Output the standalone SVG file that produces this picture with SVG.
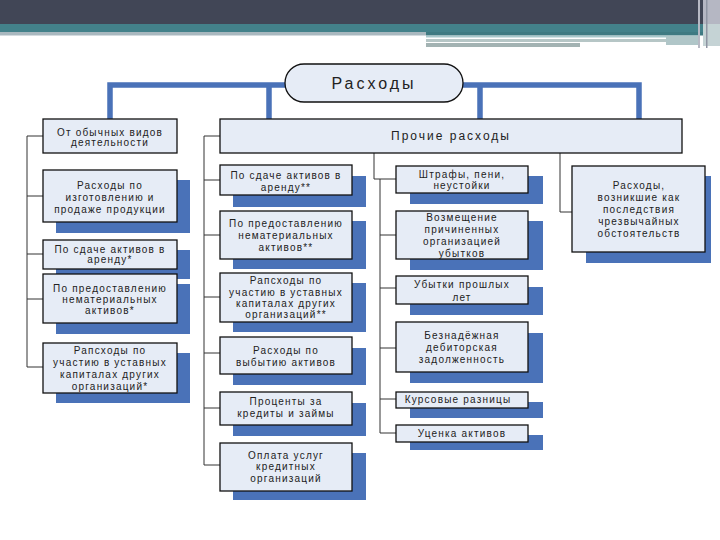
<svg xmlns="http://www.w3.org/2000/svg" width="720" height="540" viewBox="0 0 720 540">
<style>
.box{fill:#e6ecf6;stroke:#111;stroke-width:1.3}
.sh{fill:#4a72b8}
.t{font-family:"Liberation Sans",Arial,sans-serif;font-size:10px;letter-spacing:1.2px;fill:#222;text-anchor:middle}
.thin{fill:none;stroke:#333;stroke-width:1}
.thick{fill:none;stroke:#4a72b8;stroke-width:5.5;stroke-linecap:round;stroke-linejoin:miter}
</style>
<rect width="720" height="540" fill="#ffffff"/>
<!-- header -->
<g id="header">
<rect x="0" y="0" width="720" height="24" fill="#414656"/>
<rect x="0" y="24" width="720" height="9" fill="#43818a"/>
<rect x="0" y="32" width="426" height="3.5" fill="#a9b8bf"/>
<rect x="426" y="32" width="294" height="3.5" fill="#3f7a82"/>
<rect x="426" y="36" width="241" height="1.5" fill="#a8c8cc"/>
<rect x="426" y="39" width="241" height="3" fill="#b6c6c6"/>
<rect x="426" y="43" width="154" height="4" fill="#a3b3b3"/>
<rect x="666" y="36" width="34" height="9" fill="#b0c6c8"/>
<rect x="698" y="0" width="2" height="48" fill="#b7b9c4"/>
<rect x="703" y="0" width="17" height="24" fill="#b5b7c3"/>
<rect x="703" y="24" width="17" height="22" fill="#c5d3d5"/>
<rect x="706" y="0" width="1.5" height="48" fill="#8f95a3"/>
</g>
<!-- connectors -->
<g id="connectors">
<path class="thick" d="M110,119 V85 H286 M463,85 H639 V119 M269,85 V119 M480,85 V119"/>
<path class="thin" d="M43,136 H27 V367 H43 M27,196 H43 M27,254 H43 M27,299 H43"/>
<path class="thin" d="M220,136 H204 V465 H220 M204,180 H220 M204,235 H220 M204,297 H220 M204,353 H220 M204,408 H220"/>
<path class="thin" d="M374,153 V179 H396 M380,179 V433 H396 M380,235 H396 M380,288 H396 M380,348 H396 M380,399 H396"/>
<path class="thin" d="M560,153 V212 H572"/>
</g>
<!-- root -->
<g id="root">
<rect class="box" x="285" y="64" width="178" height="38" rx="19" ry="19"/>
<text x="374" y="89" font-family="'Liberation Sans',Arial,sans-serif" font-size="16" letter-spacing="3" fill="#222" text-anchor="middle">Расходы</text>
</g>
<g id="ordinary">
<rect class="box" x="43" y="119" width="134" height="34"/>
<text class="t" x="110" y="135.5">От обычных видов</text>
<text class="t" x="110" y="146">деятельности</text>
</g>
<g id="other">
<rect class="box" x="220" y="119" width="462" height="34"/>
<text x="451" y="140" font-family="'Liberation Sans',Arial,sans-serif" font-size="12" letter-spacing="2" fill="#222" text-anchor="middle">Прочие расходы</text>
</g>
<!-- left column -->
<g id="l1">
<rect class="sh" x="56" y="180" width="134" height="53"/>
<rect class="box" x="43" y="170" width="134" height="52"/>
<text class="t" x="110" y="188.5">Расходы по</text>
<text class="t" x="110" y="200.5">изготовлению и</text>
<text class="t" x="110" y="212.5">продаже продукции</text>
</g>
<g id="l2">
<rect class="sh" x="56" y="250" width="134" height="29"/>
<rect class="box" x="43" y="240" width="134" height="29"/>
<text class="t" x="110" y="252.5">По сдаче активов в</text>
<text class="t" x="110" y="262.5">аренду*</text>
</g>
<g id="l3">
<rect class="sh" x="56" y="284" width="134" height="50"/>
<rect class="box" x="43" y="274" width="134" height="49"/>
<text class="t" x="110" y="291.5">По предоставлению</text>
<text class="t" x="110" y="302.5">нематериальных</text>
<text class="t" x="110" y="313.5">активов*</text>
</g>
<g id="l4">
<rect class="sh" x="56" y="353" width="134" height="50"/>
<rect class="box" x="43" y="343" width="134" height="50"/>
<text class="t" x="110" y="353.5">Рапсходы по</text>
<text class="t" x="110" y="365.5">участию в уставных</text>
<text class="t" x="110" y="377.5">капиталах других</text>
<text class="t" x="110" y="389.5">организаций*</text>
</g>
<!-- middle column -->
<g id="m1">
<rect class="sh" x="233" y="176" width="133" height="31"/>
<rect class="box" x="220" y="165" width="132" height="30"/>
<text class="t" x="286" y="178.5">По сдаче активов в</text>
<text class="t" x="286" y="190.5">аренду**</text>
</g>
<g id="m2">
<rect class="sh" x="233" y="221" width="133" height="48"/>
<rect class="box" x="220" y="211" width="132" height="48"/>
<text class="t" x="286" y="226.5">По предоставлению</text>
<text class="t" x="286" y="238.5">нематериальных</text>
<text class="t" x="286" y="250.5">активов**</text>
</g>
<g id="m3">
<rect class="sh" x="233" y="283" width="133" height="49"/>
<rect class="box" x="220" y="273" width="132" height="49"/>
<text class="t" x="286" y="283.5">Рапсходы по</text>
<text class="t" x="286" y="295.5">участию в уставных</text>
<text class="t" x="286" y="306.5">капиталах других</text>
<text class="t" x="286" y="318">организаций**</text>
</g>
<g id="m4">
<rect class="sh" x="233" y="348" width="133" height="37"/>
<rect class="box" x="220" y="337" width="132" height="37"/>
<text class="t" x="286" y="353.5">Расходы по</text>
<text class="t" x="286" y="365.5">выбытию активов</text>
</g>
<g id="m5">
<rect class="sh" x="233" y="403" width="133" height="33"/>
<rect class="box" x="220" y="392" width="132" height="33"/>
<text class="t" x="286" y="404.5">Проценты за</text>
<text class="t" x="286" y="416.5">кредиты и займы</text>
</g>
<g id="m6">
<rect class="sh" x="233" y="453" width="133" height="47"/>
<rect class="box" x="220" y="443" width="132" height="48"/>
<text class="t" x="286" y="458.5">Оплата услуг</text>
<text class="t" x="286" y="470">кредитных</text>
<text class="t" x="286" y="481.5">организаций</text>
</g>
<!-- right-middle column -->
<g id="r1">
<rect class="sh" x="410" y="176" width="133" height="28"/>
<rect class="box" x="396" y="166" width="132" height="27"/>
<text class="t" x="462" y="177.5">Штрафы, пени,</text>
<text class="t" x="462" y="188.5">неустойки</text>
</g>
<g id="r2">
<rect class="sh" x="410" y="221" width="133" height="49"/>
<rect class="box" x="396" y="211" width="132" height="48"/>
<text class="t" x="462" y="220.5">Возмещение</text>
<text class="t" x="462" y="233">причиненных</text>
<text class="t" x="462" y="244.5">организацией</text>
<text class="t" x="462" y="256.5">убытков</text>
</g>
<g id="r3">
<rect class="sh" x="410" y="287" width="133" height="28"/>
<rect class="box" x="396" y="276" width="132" height="28"/>
<text class="t" x="462" y="287.5">Убытки прошлых</text>
<text class="t" x="462" y="300.5">лет</text>
</g>
<g id="r4">
<rect class="sh" x="410" y="333" width="133" height="50"/>
<rect class="box" x="396" y="322" width="132" height="50"/>
<text class="t" x="462" y="338.5">Безнадёжная</text>
<text class="t" x="462" y="350.5">дебиторская</text>
<text class="t" x="462" y="362.5">задолженность</text>
</g>
<g id="r5">
<rect class="sh" x="410" y="402" width="133" height="16"/>
<rect class="box" x="396" y="392" width="132" height="16"/>
<text class="t" x="458" y="402.5">Курсовые разницы</text>
</g>
<g id="r6">
<rect class="sh" x="410" y="435" width="133" height="15"/>
<rect class="box" x="396" y="425" width="132" height="17"/>
<text class="t" x="462" y="437">Уценка активов</text>
</g>
<!-- right column -->
<g id="x1">
<rect class="sh" x="586" y="176" width="125" height="87"/>
<rect class="box" x="572" y="166" width="133" height="86"/>
<text class="t" x="639" y="188.5">Расходы,</text>
<text class="t" x="639" y="200.5">возникшие как</text>
<text class="t" x="639" y="213">последствия</text>
<text class="t" x="639" y="225">чрезвычайных</text>
<text class="t" x="639" y="236.5">обстоятельств</text>
</g>
</svg>
